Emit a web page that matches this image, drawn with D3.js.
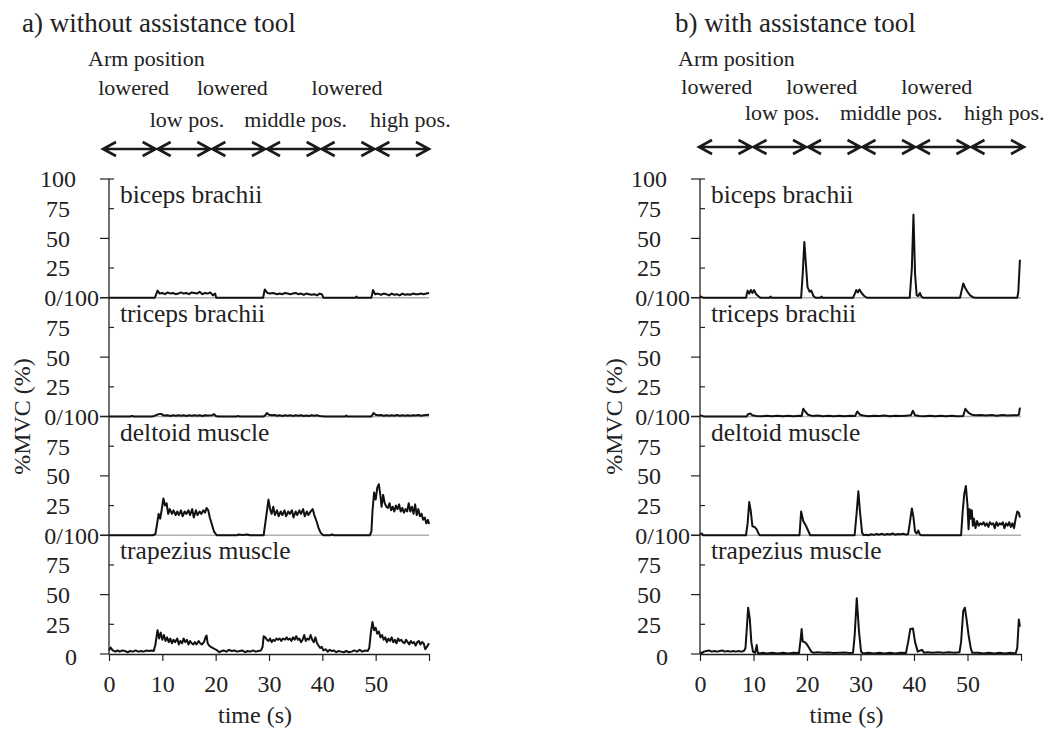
<!DOCTYPE html>
<html>
<head>
<meta charset="utf-8">
<script src="https://cdn.jsdelivr.net/npm/d3@7"></script>
<style>
  body { margin: 0; background: #fff; }
  text { font-family: "Liberation Serif", "Times New Roman", serif; fill: #222; }
</style>
</head>
<body>
<svg id="chart"></svg>
<script>
// Tick labels and categories
const timeTicks = [0, 10, 20, 30, 40, 50, 60];
const muscles = ["biceps brachii", "triceps brachii", "deltoid muscle", "trapezius muscle"];
const armLabels = ["lowered", "low pos.", "lowered", "middle pos.", "lowered", "high pos."];
const titles = ["a) without assistance tool", "b) with assistance tool"];

// %MVC traces, [time (s), %MVC]
const bicepsWithout = [[0,0],[8.6,0],[9.1,6],[9.5,3.5],[10,4],[10.5,3],[11,4.5],[11.5,3.5],[12,4],[12.5,3],[13,3.5],[13.5,4.5],[14,3.5],[14.5,4],[15,3],[15.5,4.5],[16,4],[16.5,3.5],[17,5],[17.5,3],[18,4],[18.5,3.5],[19,4.5],[19.5,2],[19.9,3.5],[20.1,0],[28.9,0],[29.2,7],[29.7,4],[30.2,3.5],[30.8,4],[31.5,3],[32,3.5],[32.5,3],[33,4],[33.5,3.5],[34,3],[34.5,3.5],[35,4],[35.5,3],[36,3.5],[36.5,2.5],[37,3.5],[37.5,3],[38,2.5],[38.5,3],[39,2],[39.5,3.5],[39.9,3],[40.2,0],[46.2,0],[46.4,1],[46.6,0],[49.2,0],[49.5,6.5],[49.9,3],[50.4,3.5],[51,2.5],[51.5,3.5],[52,3],[52.5,2],[53,3.5],[53.5,2.5],[54,3],[54.5,2],[55,3.5],[55.5,2.5],[56,3],[56.5,2.5],[57,3.5],[57.5,3],[58,3],[58.5,3.5],[59,3],[59.5,3.5],[60,4]];
const tricepsWithout = [[0,0],[4,0],[4.3,0.5],[4.6,0],[8,0],[8.5,0.5],[9.3,2],[9.8,2.2],[10.3,0.8],[11,1],[11.5,0.5],[12,1],[12.5,0.6],[13,1],[13.5,0.6],[14,1],[14.5,0.5],[15,1],[15.5,0.7],[16,1],[16.5,0.6],[17,1],[17.5,0.5],[18,1],[18.5,0.8],[19.3,1],[19.7,2],[20,0.5],[20.5,0],[24,0],[24.2,0.5],[24.4,0],[29,0],[29.4,1.5],[29.6,3],[30,1.5],[30.5,1],[31,1.2],[31.5,0.6],[32,1],[32.5,0.5],[33,1],[33.5,0.6],[34,1.1],[34.5,0.5],[35,1],[35.5,0.6],[36,1],[36.5,0.4],[37,0.9],[37.5,0.5],[38,1],[38.5,0.6],[39,1],[39.5,0.5],[40,0.3],[40.3,0],[44.3,0],[44.5,0.8],[44.7,0],[49.2,0],[49.6,3],[50,1.5],[50.5,1],[51,1.2],[51.5,0.7],[52,1.1],[52.5,0.6],[53,1],[53.5,0.7],[54,1.2],[54.5,0.6],[55,1],[55.5,0.7],[56,1.1],[56.5,0.6],[57,1],[57.5,0.8],[58,1.2],[58.5,0.7],[59,1],[59.5,1.3],[60,1.5]];
const deltoidWithout = [[0,0],[8.2,0],[8.7,1],[9.1,12],[9.3,18],[9.6,14],[9.9,22],[10.2,31],[10.5,25],[10.8,27],[11.1,18],[11.4,22],[11.8,18],[12.1,21],[12.5,17],[12.8,20],[13.1,17],[13.5,21],[13.8,16],[14.2,20],[14.5,18],[14.9,21],[15.2,17],[15.6,22],[15.9,15],[16.3,21],[16.6,17],[17,20],[17.3,18],[17.7,21],[18,19],[18.3,23],[18.6,21],[18.9,15],[19.3,9],[19.7,3],[20.2,0],[24,0],[24.3,0.6],[25,0.3],[26,0.6],[26.4,0],[29,0],[29.3,10],[29.6,20],[29.9,30],[30.2,22],[30.5,18],[30.8,24],[31.1,17],[31.5,21],[31.8,16],[32.2,20],[32.5,17],[32.9,21],[33.2,16],[33.6,20],[33.9,18],[34.3,21],[34.6,15],[35,20],[35.3,17],[35.7,21],[36,18],[36.4,22],[36.7,16],[37.1,20],[37.4,17],[37.8,20],[38.2,22],[38.5,17],[38.9,12],[39.3,6],[39.7,2],[40.2,0],[41.5,0],[41.8,0.6],[42.2,0],[48.9,0],[49.2,3],[49.4,20],[49.7,36],[50,30],[50.3,40],[50.6,43],[50.9,33],[51.1,24],[51.4,34],[51.7,27],[52,24],[52.3,23],[52.6,27],[52.9,21],[53.2,24],[53.5,20],[53.8,25],[54.1,22],[54.4,26],[54.7,20],[55,23],[55.3,19],[55.6,22],[55.9,20],[56.2,27],[56.5,20],[56.8,24],[57.1,18],[57.4,26],[57.7,17],[58,22],[58.3,16],[58.6,18],[58.9,13],[59.2,15],[59.5,10],[59.8,13],[60,9.5]];
const trapeziusWithout = [[0,3],[0.3,5.5],[0.7,3],[1.2,2],[1.6,3],[2,2],[2.5,3],[3,2.5],[3.5,1.5],[4,2.5],[4.5,2],[5,3],[5.5,2],[6,2.5],[6.5,2],[7,3],[7.5,2.5],[8,3],[8.4,2.5],[8.7,8],[9.1,20],[9.4,13],[9.7,18],[10,12],[10.3,16],[10.6,11],[10.9,14],[11.2,10],[11.5,13],[11.8,9],[12.1,12],[12.4,10],[12.8,13],[13.1,8],[13.4,11],[13.7,9],[14,13],[14.3,10],[14.6,12],[14.9,8],[15.2,11],[15.5,9],[15.8,8],[16.1,10],[16.4,8],[16.8,11],[17.1,9],[17.4,8],[17.8,10],[18.1,14],[18.3,15.5],[18.5,9],[18.8,7],[19.1,6],[19.5,5],[19.9,4],[20.3,3],[20.7,1.5],[21.1,2.5],[21.5,3],[22,2],[22.5,3.5],[23,2.5],[23.5,3],[24,2],[24.5,2.5],[25,3],[25.5,1.5],[26,2.5],[26.5,2],[27,3],[27.5,2],[28,2.5],[28.5,3],[28.8,6],[29,15],[29.3,14],[29.6,12],[29.9,11],[30.2,13],[30.5,10],[30.8,12],[31.1,11],[31.4,13],[31.7,12],[32,13],[32.3,11],[32.6,13],[33,12],[33.3,14],[33.6,12],[33.9,13],[34.2,11],[34.5,14],[34.8,12],[35.1,15],[35.4,12],[35.7,13],[36,10],[36.3,12],[36.6,16],[36.9,11],[37.2,13],[37.5,12],[37.8,16],[38.1,12],[38.4,10],[38.7,14],[39,9],[39.3,7],[39.6,5],[39.9,6],[40.2,3],[40.6,4],[41,2],[41.4,3.5],[41.8,2.5],[42.2,3],[42.6,1.5],[43,2.5],[43.5,2],[44,1.5],[44.5,2.5],[45,1.5],[45.5,2],[46,3],[46.5,2],[47,3.5],[47.5,2],[48,3],[48.5,2.5],[48.8,5],[49.1,18],[49.4,27],[49.7,20],[50,22],[50.3,17],[50.6,19],[50.9,14],[51.2,16],[51.5,12],[51.8,14],[52.1,10],[52.4,13],[52.7,11],[53,14],[53.3,10],[53.6,12],[53.9,9],[54.2,13],[54.5,11],[54.8,12],[55.1,10],[55.4,9],[55.7,12],[56,10],[56.3,8],[56.6,11],[56.9,9],[57.2,10],[57.5,7],[57.8,10],[58.1,11],[58.4,8],[58.7,10],[59,9],[59.3,4],[59.6,6],[60,9]];

const bicepsWith = [[0,1.5],[0.3,0.5],[0.7,0],[8.6,0],[8.9,6],[9.2,3.5],[9.5,6.5],[9.8,4],[10.1,6.5],[10.5,3],[11,1],[11.3,0],[13,0],[13.2,1],[13.4,0],[18.9,0],[19.2,20],[19.5,47],[19.8,28],[20.1,9],[20.5,5],[20.8,6],[21.2,1.5],[21.6,0],[22.5,0],[22.7,1],[22.9,0],[28.6,0],[28.9,3],[29.2,6.5],[29.5,4.5],[29.8,7],[30.2,4],[30.7,1.5],[31.2,0],[39.2,0],[39.6,25],[39.9,70],[40.2,20],[40.5,2],[40.8,1.5],[41.1,4],[41.4,1],[41.7,0],[48.6,0],[49,8],[49.2,12],[49.6,8],[50,5],[50.5,2],[51,0.5],[51.5,0],[59.3,0],[59.5,5],[59.8,32]];
const tricepsWith = [[0,1],[0.4,0.5],[0.8,0],[8.7,0],[9,2],[9.4,2.5],[9.8,1],[10.5,0.5],[11.5,0.2],[12.5,0.6],[13.5,0.3],[14.5,0.7],[15.5,0.3],[16.5,0.6],[17.5,0.3],[18.5,0.6],[19,0.5],[19.3,6.5],[19.7,4],[20.2,1.5],[21,0.5],[22,0.8],[23,0.3],[24,0.6],[25,0.3],[26,0.7],[27,0.3],[28,0.6],[29,0.5],[29.4,4.2],[29.9,1.5],[30.5,0.8],[31.5,0.3],[32.5,0.7],[33.5,0.4],[34.5,0.8],[35.5,0.3],[36.5,0.7],[37.5,0.4],[38.5,0.7],[39.4,1],[39.8,4.8],[40.2,1],[41,0.5],[42,0.3],[43,0.6],[44,0.3],[45,0.6],[46,0.3],[47,0.6],[48,0.3],[49.2,0.5],[49.6,6.5],[50.2,3],[50.8,1.5],[51.5,1],[52.5,1.3],[53.5,0.8],[54.5,1.2],[55.5,0.7],[56.5,1.2],[57.5,0.8],[58.5,1.1],[59.3,1],[59.6,1.5],[59.8,7.5]];
const deltoidWith = [[0,1],[0.3,1.5],[0.6,0],[8.6,0],[8.9,10],[9.2,28],[9.5,20],[9.8,7.5],[10.2,7],[10.6,5],[11,1],[11.2,0],[18.6,0],[18.9,20],[19.1,16],[19.3,12],[19.8,8],[20.2,4],[20.6,0],[28.9,0],[29.3,20],[29.6,37],[29.9,20],[30.3,2],[30.6,0],[31,0.5],[31.5,0],[32,0.8],[32.5,0.3],[33,1],[33.5,0.5],[34,1.2],[34.5,0.4],[35,1],[35.5,0.6],[36,1.5],[36.5,0.5],[37,1],[37.5,0.8],[38,1.3],[38.5,0.5],[38.9,1],[39.2,10],[39.6,22.5],[39.9,15],[40.2,3],[40.5,1.5],[40.8,4],[41.1,0.5],[41.4,0],[48.8,0],[49.1,20],[49.4,35],[49.7,41.5],[50,25],[50.2,5],[50.4,22],[50.6,14],[50.8,21],[51,8],[51.2,14],[51.5,6],[51.8,12],[52.1,8],[52.4,10],[52.7,9],[53,11],[53.3,8],[53.6,10],[53.9,7],[54.2,11],[54.5,9],[54.8,10],[55.1,6],[55.4,11],[55.7,8],[56,10],[56.3,9],[56.6,11],[56.9,6],[57.2,10],[57.5,8],[57.8,11],[58.1,7],[58.4,10],[58.7,6],[59,14],[59.3,20],[59.6,19],[59.8,15]];
const trapeziusWith = [[0,2],[0.3,0.5],[0.7,2],[1.2,2.5],[1.7,3],[2.2,2],[2.7,2.5],[3.2,2],[3.7,2.5],[4.2,3],[4.6,2],[5.2,2.5],[5.7,2],[6.2,2.5],[6.7,2],[7.2,2.5],[7.7,2],[8.2,2.5],[8.5,5],[8.8,25],[9,39],[9.3,30],[9.6,10],[9.9,2],[10.3,1],[10.6,7.5],[10.8,1],[11.2,0.5],[11.7,1],[12.5,0.5],[13.5,1],[14.5,0.5],[15.5,1],[16.5,0.5],[17.5,1],[18.5,0.8],[18.8,12],[19,21],[19.2,10.5],[19.6,10],[20,8],[20.4,5],[20.8,2],[21.2,1],[22,1.5],[23,1],[24,1.2],[25,0.8],[26,1],[27,1.2],[28,0.8],[28.6,1],[28.9,15],[29.3,47],[29.7,20],[30.1,2],[30.5,0.5],[31.5,1],[32.5,0.5],[33.5,1],[34.5,0.5],[35.5,1],[36.5,0.5],[37.5,1],[38.5,0.8],[38.9,10],[39.3,21],[39.8,21.5],[40.2,10],[40.7,2],[41.2,3],[41.5,3.5],[41.9,1],[42.5,1.5],[43.5,1],[44.5,1.5],[45.5,1],[46.5,1.5],[47.5,1],[48.5,1.5],[48.8,10],[49.2,36],[49.5,39],[49.8,30],[50.2,16],[50.6,5],[50.9,1],[52,1],[53,0.5],[54,1],[55,0.5],[56,1],[57,0.5],[58,1],[59,0.5],[59.3,5],[59.6,29],[59.8,23]];

// Layout
const width = 1051, height = 731;
const plotTop = 179, plotBottom = 654;
const subH = (plotBottom - plotTop) / muscles.length;

const panels = [
  { title: titles[0], series: [bicepsWithout, tricepsWithout, deltoidWithout, trapeziusWithout],
    x0: 109, x1: 429, titleX: 22, armX: 88, rowY: [95, 127], arrowY: 149, arrowPad: [-7, 1],
    labelDx: [-2, -2, -10, 0, -2, 8], yLabelX: 22 },
  { title: titles[1], series: [bicepsWith, tricepsWith, deltoidWith, trapeziusWith],
    x0: 700, x1: 1021, titleX: 675, armX: 678, rowY: [94, 120], arrowY: 147, arrowPad: [-2, 4],
    labelDx: [-10, 2, -12, 4, -4, 10], yLabelX: 614 }
];

const svg = d3.select("#chart")
    .attr("width", width)
    .attr("height", height);

panels.forEach(p => {
  const g = svg.append("g");

  const x = d3.scaleLinear().domain([0, 60]).range([p.x0, p.x1]);
  const ys = muscles.map((m, i) => d3.scaleLinear()
      .domain([0, 100])
      .range([plotTop + (i + 1) * subH, plotTop + i * subH]));

  // header
  g.append("text").attr("x", p.titleX).attr("y", 32)
      .style("font-size", "27px").text(p.title);
  g.append("text").attr("x", p.armX).attr("y", 66)
      .style("font-size", "22px").text("Arm position");

  armLabels.forEach((lab, i) => {
    g.append("text")
        .attr("x", x(i * 10 + 5) + p.labelDx[i])
        .attr("y", p.rowY[i % 2])
        .attr("text-anchor", "middle")
        .style("font-size", "22px")
        .text(lab);
  });

  // double-headed arrows, one per 10 s phase
  const xa = x.copy().range([p.x0 + p.arrowPad[0], p.x1 + p.arrowPad[1]]);
  const segs = d3.pairs(timeTicks);
  const ah = 13, aw = 7;
  segs.forEach(([a, b]) => {
    const xs = xa(a) + 1, xe = xa(b) - 1, yy = p.arrowY;
    g.append("path")
        .attr("d", `M${xs},${yy}L${xe},${yy}M${xs + ah},${yy - aw}L${xs},${yy}L${xs + ah},${yy + aw}M${xe - ah},${yy - aw}L${xe},${yy}L${xe - ah},${yy + aw}`)
        .attr("fill", "none")
        .attr("stroke", "#1a1a1a")
        .attr("stroke-width", 2.6);
  });

  // gray zero lines between sub-panels
  ys.slice(0, 3).forEach(y => {
    g.append("line")
        .attr("x1", x(0)).attr("x2", x(60))
        .attr("y1", y(0)).attr("y2", y(0))
        .attr("stroke", "#b0b0b0").attr("stroke-width", 1.5);
  });

  // traces
  const line = d3.line().x(d => x(d[0]));
  p.series.forEach((s, i) => {
    g.append("path")
        .datum(s)
        .attr("fill", "none")
        .attr("stroke", "#111")
        .attr("stroke-width", 2)
        .attr("stroke-linejoin", "round")
        .attr("d", line.y(d => ys[i](d[1])));
  });

  // y axis line
  g.append("line")
      .attr("x1", x(0)).attr("x2", x(0))
      .attr("y1", ys[0](100)).attr("y2", ys[3](0))
      .attr("stroke", "#222").attr("stroke-width", 1.3);

  // y ticks & labels
  ys.forEach((y, i) => {
    [25, 75].forEach(v => {
      g.append("line").attr("x1", x(0)).attr("x2", x(0) + 5)
          .attr("y1", y(v)).attr("y2", y(v))
          .attr("stroke", "#222").attr("stroke-width", 1.2);
    });
    g.append("line").attr("x1", x(0) - 9).attr("x2", x(0))
        .attr("y1", y(50)).attr("y2", y(50))
        .attr("stroke", "#222").attr("stroke-width", 1.2);
    [25, 50, 75].forEach(v => {
      g.append("text").attr("x", x(0) - 51).attr("y", y(v)).attr("dy", "0.35em")
          .attr("text-anchor", "middle").style("font-size", "24px").text(v);
    });
    if (i === 0) {
      g.append("line").attr("x1", x(0) - 9).attr("x2", x(0) + 5)
          .attr("y1", y(100)).attr("y2", y(100))
          .attr("stroke", "#222").attr("stroke-width", 1.2);
      g.append("text").attr("x", x(0) - 51).attr("y", y(100)).attr("dy", "0.35em")
          .attr("text-anchor", "middle").style("font-size", "24px").text("100");
    }
    if (i < 3) {
      g.append("line").attr("x1", x(0) - 9).attr("x2", x(0))
          .attr("y1", y(0)).attr("y2", y(0))
          .attr("stroke", "#222").attr("stroke-width", 1.6);
      g.append("text").attr("x", x(0) - 10).attr("y", y(0)).attr("dy", "0.35em")
          .attr("text-anchor", "end").style("font-size", "24px").text("0/100");
    } else {
      g.append("line").attr("x1", x(0) - 9).attr("x2", x(0))
          .attr("y1", y(0)).attr("y2", y(0))
          .attr("stroke", "#222").attr("stroke-width", 1.2);
      g.append("text").attr("x", x(0) - 32).attr("y", y(0)).attr("dy", "0.45em")
          .attr("text-anchor", "end").style("font-size", "24px").text("0");
    }
    // muscle name
    g.append("text").attr("x", x(0) + 11).attr("y", y(100) + 24)
        .style("font-size", "25.5px").text(muscles[i]);
  });

  // x axis
  const xAxis = d3.axisBottom(x)
      .tickValues(timeTicks)
      .tickSize(7)
      .tickSizeOuter(0)
      .tickPadding(14)
      .tickFormat(d => d === 60 ? "" : d);
  const ax = g.append("g")
      .attr("transform", `translate(0,${plotBottom})`)
      .call(xAxis);
  ax.select(".domain").attr("stroke", "#222").attr("stroke-width", 1.3);
  ax.selectAll(".tick line").attr("stroke", "#222").attr("stroke-width", 1.2);
  ax.selectAll(".tick text")
      .style("font-size", "24px")
      .style("font-family", "'Liberation Serif', 'Times New Roman', serif")
      .attr("fill", "#222");

  g.append("text")
      .attr("x", x(30) - 14).attr("y", 723)
      .attr("text-anchor", "middle")
      .style("font-size", "24px")
      .text("time (s)");

  g.append("text")
      .attr("transform", `translate(${p.yLabelX},${(plotTop + plotBottom) / 2}) rotate(-90)`)
      .attr("dy", "0.35em")
      .attr("text-anchor", "middle")
      .style("font-size", "24px")
      .text("%MVC (%)");
});
</script>
</body>
</html>
